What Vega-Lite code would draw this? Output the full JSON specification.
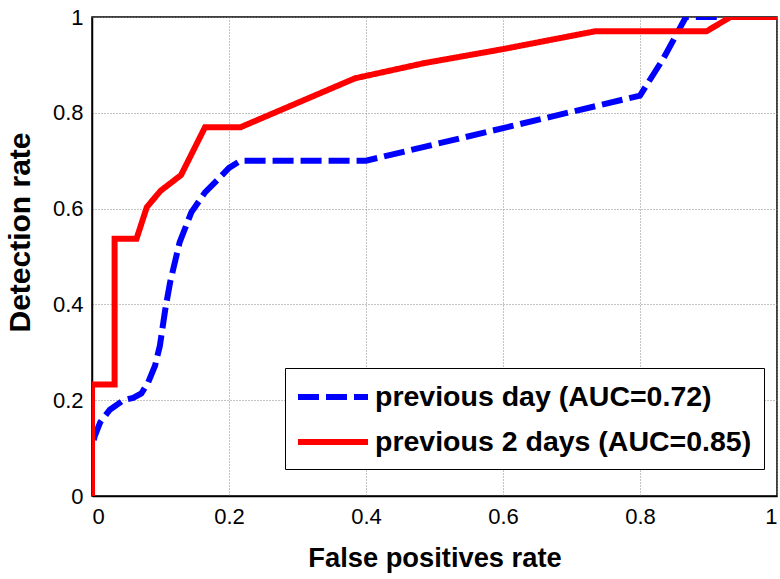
{
  "$schema": "https://vega.github.io/schema/vega-lite/v6.json",
  "width": 685,
  "height": 479,
  "autosize": {"type": "none"},
  "padding": {"left": 92, "top": 17, "right": 3, "bottom": 83},
  "background": "white",
  "config": {
    "font": "Liberation Sans",
    "view": {"stroke": "black", "strokeWidth": 1.5},
    "axis": {
      "grid": true,
      "gridColor": "#888888",
      "gridDash": [1, 2],
      "gridWidth": 1,
      "domainColor": "black",
      "domainWidth": 1.5,
      "ticks": false,
      "tickSize": 0,
      "labelFont": "Liberation Sans",
      "labelFontSize": 22,
      "labelColor": "black",
      "titleFont": "Liberation Sans",
      "titleFontWeight": "bold",
      "titleColor": "black"
    },
    "legend": {
      "labelFont": "Liberation Sans",
      "labelFontWeight": "bold",
      "labelFontSize": 28.5,
      "labelColor": "black",
      "labelLimit": 0
    }
  },
  "data": {
    "values": [
      {"series": "previous day (AUC=0.72)", "i": 0, "fpr": 0, "tpr": 0},
      {"series": "previous day (AUC=0.72)", "i": 1, "fpr": 0, "tpr": 0.1},
      {"series": "previous day (AUC=0.72)", "i": 2, "fpr": 0.004, "tpr": 0.125},
      {"series": "previous day (AUC=0.72)", "i": 3, "fpr": 0.012, "tpr": 0.154},
      {"series": "previous day (AUC=0.72)", "i": 4, "fpr": 0.026, "tpr": 0.18},
      {"series": "previous day (AUC=0.72)", "i": 5, "fpr": 0.046, "tpr": 0.2},
      {"series": "previous day (AUC=0.72)", "i": 6, "fpr": 0.06, "tpr": 0.205},
      {"series": "previous day (AUC=0.72)", "i": 7, "fpr": 0.072, "tpr": 0.214},
      {"series": "previous day (AUC=0.72)", "i": 8, "fpr": 0.082, "tpr": 0.237},
      {"series": "previous day (AUC=0.72)", "i": 9, "fpr": 0.092, "tpr": 0.272},
      {"series": "previous day (AUC=0.72)", "i": 10, "fpr": 0.099, "tpr": 0.313},
      {"series": "previous day (AUC=0.72)", "i": 11, "fpr": 0.107, "tpr": 0.39},
      {"series": "previous day (AUC=0.72)", "i": 12, "fpr": 0.114, "tpr": 0.446},
      {"series": "previous day (AUC=0.72)", "i": 13, "fpr": 0.128, "tpr": 0.53},
      {"series": "previous day (AUC=0.72)", "i": 14, "fpr": 0.145, "tpr": 0.592},
      {"series": "previous day (AUC=0.72)", "i": 15, "fpr": 0.165, "tpr": 0.634},
      {"series": "previous day (AUC=0.72)", "i": 16, "fpr": 0.184, "tpr": 0.661},
      {"series": "previous day (AUC=0.72)", "i": 17, "fpr": 0.2, "tpr": 0.685},
      {"series": "previous day (AUC=0.72)", "i": 18, "fpr": 0.217, "tpr": 0.7},
      {"series": "previous day (AUC=0.72)", "i": 19, "fpr": 0.4, "tpr": 0.7},
      {"series": "previous day (AUC=0.72)", "i": 20, "fpr": 0.8, "tpr": 0.836},
      {"series": "previous day (AUC=0.72)", "i": 21, "fpr": 0.834, "tpr": 0.913},
      {"series": "previous day (AUC=0.72)", "i": 22, "fpr": 0.867, "tpr": 1},
      {"series": "previous day (AUC=0.72)", "i": 23, "fpr": 1, "tpr": 1},
      {"series": "previous 2 days (AUC=0.85)", "i": 0, "fpr": 0, "tpr": 0},
      {"series": "previous 2 days (AUC=0.85)", "i": 1, "fpr": 0, "tpr": 0.233},
      {"series": "previous 2 days (AUC=0.85)", "i": 2, "fpr": 0.033, "tpr": 0.233},
      {"series": "previous 2 days (AUC=0.85)", "i": 3, "fpr": 0.033, "tpr": 0.537},
      {"series": "previous 2 days (AUC=0.85)", "i": 4, "fpr": 0.065, "tpr": 0.537},
      {"series": "previous 2 days (AUC=0.85)", "i": 5, "fpr": 0.08, "tpr": 0.603},
      {"series": "previous 2 days (AUC=0.85)", "i": 6, "fpr": 0.1, "tpr": 0.637},
      {"series": "previous 2 days (AUC=0.85)", "i": 7, "fpr": 0.13, "tpr": 0.67},
      {"series": "previous 2 days (AUC=0.85)", "i": 8, "fpr": 0.165, "tpr": 0.77},
      {"series": "previous 2 days (AUC=0.85)", "i": 9, "fpr": 0.217, "tpr": 0.77},
      {"series": "previous 2 days (AUC=0.85)", "i": 10, "fpr": 0.384, "tpr": 0.872},
      {"series": "previous 2 days (AUC=0.85)", "i": 11, "fpr": 0.486, "tpr": 0.904},
      {"series": "previous 2 days (AUC=0.85)", "i": 12, "fpr": 0.6, "tpr": 0.933},
      {"series": "previous 2 days (AUC=0.85)", "i": 13, "fpr": 0.734, "tpr": 0.97},
      {"series": "previous 2 days (AUC=0.85)", "i": 14, "fpr": 0.897, "tpr": 0.97},
      {"series": "previous 2 days (AUC=0.85)", "i": 15, "fpr": 0.932, "tpr": 1},
      {"series": "previous 2 days (AUC=0.85)", "i": 16, "fpr": 1, "tpr": 1}
    ]
  },
  "mark": {"type": "line", "strokeWidth": 6, "clip": true},
  "encoding": {
    "x": {
      "field": "fpr",
      "type": "quantitative",
      "scale": {"domain": [0, 1], "nice": false, "zero": false},
      "axis": {
        "title": "False positives rate",
        "values": [0, 0.2, 0.4, 0.6, 0.8, 1],
        "format": "~g",
        "labelPadding": 10,
        "titleFontSize": 27.3,
        "titlePadding": 17
      }
    },
    "y": {
      "field": "tpr",
      "type": "quantitative",
      "scale": {"domain": [0, 1], "nice": false, "zero": false},
      "axis": {
        "title": "Detection rate",
        "values": [0, 0.2, 0.4, 0.6, 0.8, 1],
        "format": "~g",
        "labelPadding": 9,
        "titleFontSize": 30,
        "titleX": -57,
        "titleY": 215
      }
    },
    "order": {"field": "i", "type": "quantitative"},
    "color": {
      "field": "series",
      "type": "nominal",
      "sort": ["previous day (AUC=0.72)", "previous 2 days (AUC=0.85)"],
      "scale": {
        "domain": ["previous day (AUC=0.72)", "previous 2 days (AUC=0.85)"],
        "range": ["#0000ff", "#ff0000"]
      },
      "legend": {
        "title": null,
        "orient": "none",
        "legendX": 193,
        "legendY": 351,
        "fillColor": "white",
        "strokeColor": "black",
        "padding": 12,
        "symbolType": "M-2.5,0H2.5",
        "symbolSize": 784,
        "symbolStrokeWidth": 6,
        "symbolOffset": 19,
        "labelOffset": 25,
        "rowPadding": 13
      }
    },
    "strokeDash": {
      "field": "series",
      "type": "nominal",
      "sort": ["previous day (AUC=0.72)", "previous 2 days (AUC=0.85)"],
      "scale": {
        "domain": ["previous day (AUC=0.72)", "previous 2 days (AUC=0.85)"],
        "range": [[21, 7], [1, 0]]
      },
      "legend": {
        "title": null,
        "orient": "none",
        "legendX": 193,
        "legendY": 351,
        "fillColor": "white",
        "strokeColor": "black",
        "padding": 12,
        "symbolType": "M-2.5,0H2.5",
        "symbolSize": 784,
        "symbolStrokeWidth": 6,
        "symbolOffset": 19,
        "labelOffset": 25,
        "rowPadding": 13
      }
    }
  }
}
